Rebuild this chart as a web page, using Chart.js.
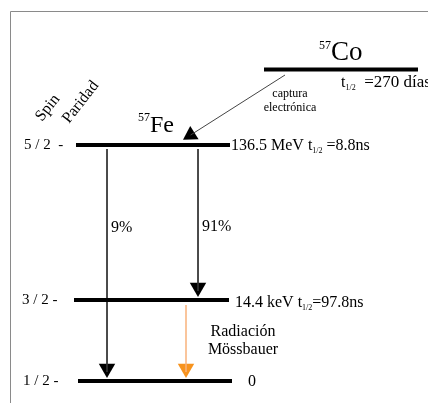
<!DOCTYPE html>
<html>
<head>
<meta charset="utf-8">
<script src="https://cdn.jsdelivr.net/npm/chart.js@4/dist/chart.umd.min.js"></script>
<style>
  body { margin: 0; background: #fff; }
  #wrap { position: relative; width: 428px; height: 403px; }
</style>
</head>
<body>
<div id="wrap"><canvas id="decayChart" width="428" height="403"></canvas></div>
<script>
// 57Co -> 57Fe decay scheme, diagram units (y grows downward)
var spinLabels = ['5 / 2  -', '3 / 2 -', '1 / 2 -'];
var levelY = [145, 300, 381];
var levelStart = [76, 74, 78];
var levelEnd = [230, 229, 232];
var energyLabels = ['136.5 MeV', '14.4 keV', '0'];
var halfLives = [' =8.8ns', '=97.8ns', ''];

var parentLevel = { y: 69.5, x0: 264, x1: 418 };
var parentHalfLife = '  =270 días';

// gamma transitions from 5/2 level
var branchX = [107, 198];
var branchTo = [2, 1];
var branchLabels = ['9%', '91%'];

// Mössbauer line 3/2 -> 1/2
var mossX = 186;

// electron capture line (head centre at end of line)
var capture = { x0: 285, y0: 75, x1: 190.6, y1: 135 };

var serif = '"Liberation Serif", "Times New Roman", serif';

var datasets = [];
for (var i = 0; i < levelY.length; i++) {
    datasets.push({
        type: 'line',
        data: [{ x: levelStart[i], y: levelY[i] }, { x: levelEnd[i], y: levelY[i] }],
        borderColor: '#000',
        borderWidth: 4,
        pointRadius: 0
    });
}
datasets.push({
    type: 'line',
    data: [{ x: parentLevel.x0, y: parentLevel.y }, { x: parentLevel.x1, y: parentLevel.y }],
    borderColor: '#000',
    borderWidth: 4,
    pointRadius: 0
});

var headR = 9.5;
var heads = [];
for (var j = 0; j < branchX.length; j++) {
    var tip = levelY[branchTo[j]] - 3;
    datasets.push({
        type: 'line',
        data: [{ x: branchX[j], y: levelY[0] + 4 }, { x: branchX[j], y: tip - 6 }],
        borderColor: '#333',
        borderWidth: 1,
        pointRadius: 0
    });
    heads.push({ x: branchX[j], y: tip - headR });
}
datasets.push({
    type: 'scatter',
    data: heads,
    pointStyle: 'triangle',
    rotation: 180,
    pointRadius: headR,
    backgroundColor: '#000',
    borderColor: '#000',
    borderWidth: 0
});

// Mössbauer radiation (orange)
var mossTip = levelY[2] - 3;
datasets.push({
    type: 'line',
    data: [{ x: mossX, y: levelY[1] + 5 }, { x: mossX, y: mossTip - 6 }],
    borderColor: '#f9b27c',
    borderWidth: 1.5,
    pointRadius: 0
});
datasets.push({
    type: 'scatter',
    data: [{ x: mossX, y: mossTip - headR }],
    pointStyle: 'triangle',
    rotation: 180,
    pointRadius: headR,
    backgroundColor: '#f7931e',
    borderColor: '#f7931e',
    borderWidth: 0
});

// electron capture arrow, head points along the line
var capAngle = Math.atan2(capture.x1 - capture.x0, capture.y0 - capture.y1) * 180 / Math.PI;
datasets.push({
    type: 'line',
    data: [{ x: capture.x0, y: capture.y0 }, { x: capture.x1, y: capture.y1 }],
    borderColor: '#444',
    borderWidth: 1,
    pointRadius: 0
});
datasets.push({
    type: 'scatter',
    data: [{ x: capture.x1, y: capture.y1 }],
    pointStyle: 'triangle',
    rotation: capAngle,
    pointRadius: 9,
    backgroundColor: '#000',
    borderColor: '#000',
    borderWidth: 0
});

function drawRuns(ctx, x, y, runs) {
    // runs: [text, size, baseline shift]
    ctx.textAlign = 'left';
    ctx.textBaseline = 'alphabetic';
    runs.forEach(function (r) {
        ctx.font = r[1] + 'px ' + serif;
        ctx.fillText(r[0], x, y + r[2]);
        x += ctx.measureText(r[0]).width;
    });
}

var labelsPlugin = {
    id: 'labels',
    beforeDraw: function (chart) {
        var ctx = chart.ctx, sx = chart.scales.x, sy = chart.scales.y;
        // frame (top and left only)
        ctx.save();
        ctx.strokeStyle = '#8a8a8a';
        ctx.lineWidth = 1;
        ctx.beginPath();
        ctx.moveTo(sx.getPixelForValue(428), sy.getPixelForValue(11.5));
        ctx.lineTo(sx.getPixelForValue(10.5), sy.getPixelForValue(11.5));
        ctx.lineTo(sx.getPixelForValue(10.5), sy.getPixelForValue(403));
        ctx.stroke();
        ctx.restore();
    },
    afterDatasetsDraw: function (chart) {
        var ctx = chart.ctx, sx = chart.scales.x, sy = chart.scales.y;
        var X = function (v) { return sx.getPixelForValue(v); };
        var Y = function (v) { return sy.getPixelForValue(v); };
        ctx.save();
        ctx.fillStyle = '#000';

        // spin labels
        ctx.textAlign = 'left';
        ctx.textBaseline = 'middle';
        ctx.font = '15px ' + serif;
        var spinX = [24, 22, 23];
        for (var i = 0; i < levelY.length; i++) {
            ctx.fillText(spinLabels[i], X(spinX[i]), Y(levelY[i]));
        }

        // energy labels with half lives
        var ey = [0, 2, 0];
        var ex = [231, 235, 248];
        for (var k = 0; k < levelY.length; k++) {
            var runs = [[energyLabels[k], 16, 0]];
            if (halfLives[k]) {
                runs.push([' t', 16, 0], ['1/2', 8, 3], [halfLives[k], 16, 0]);
            }
            drawRuns(ctx, X(ex[k]), Y(levelY[k] + 5 + ey[k]), runs);
        }

        // nuclide names
        drawRuns(ctx, X(319), Y(60), [['57', 12, -11], ['Co', 27, 0]]);
        drawRuns(ctx, X(138), Y(132), [['57', 12, -11], ['Fe', 24, 0]]);
        drawRuns(ctx, X(341), Y(87), [['t', 16, 0], ['1/2', 8, 3], [parentHalfLife, 17, 0]]);

        // capture label
        ctx.textAlign = 'center';
        ctx.textBaseline = 'alphabetic';
        ctx.font = '12px ' + serif;
        ctx.fillText('captura', X(290), Y(97));
        ctx.fillText('electrónica', X(290), Y(111));

        // branching ratios
        ctx.textAlign = 'left';
        ctx.font = '16px ' + serif;
        ctx.fillText(branchLabels[0], X(111), Y(232));
        ctx.fillText(branchLabels[1], X(202), Y(231));

        // Mössbauer label
        ctx.textAlign = 'center';
        ctx.fillText('Radiación', X(243), Y(336));
        ctx.fillText('Mössbauer', X(243), Y(354));

        // rotated axis titles
        ctx.textAlign = 'left';
        ctx.font = '16px ' + serif;
        [['Spin', 42, 122], ['Paridad', 69, 124]].forEach(function (t) {
            ctx.save();
            ctx.translate(X(t[1]), Y(t[2]));
            ctx.rotate(-52 * Math.PI / 180);
            ctx.fillText(t[0], 0, 0);
            ctx.restore();
        });
        ctx.restore();
    }
};

new Chart(document.getElementById('decayChart').getContext('2d'), {
    type: 'scatter',
    data: { datasets: datasets },
    options: {
        responsive: false,
        animation: false,
        events: [],
        layout: { padding: 0, autoPadding: false },
        plugins: { legend: { display: false }, tooltip: { enabled: false } },
        scales: {
            x: { type: 'linear', min: 0, max: 428, display: false },
            y: { type: 'linear', min: 0, max: 403, reverse: true, display: false }
        }
    },
    plugins: [labelsPlugin]
});
</script>
</body>
</html>
